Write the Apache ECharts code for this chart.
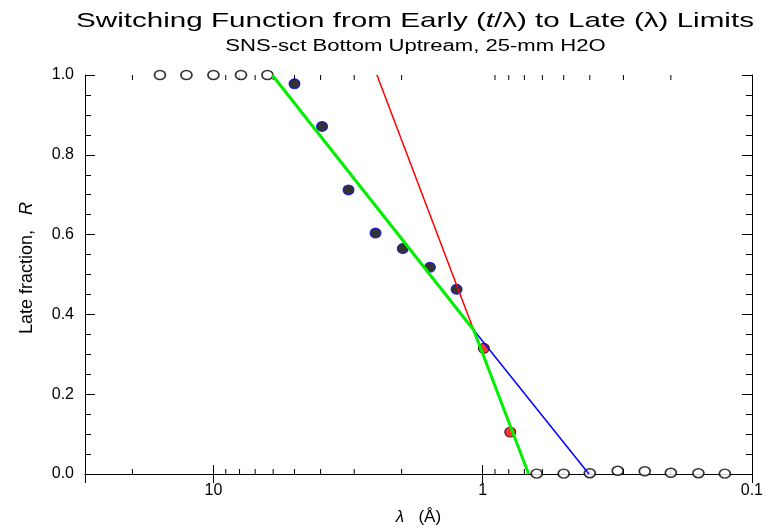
<!DOCTYPE html>
<html>
<head>
<meta charset="utf-8">
<script src="https://cdn.jsdelivr.net/npm/echarts@6/dist/echarts.min.js"></script>
<style>html,body{margin:0;padding:0;background:#fff;}#c{width:766px;height:531px;}</style>
</head>
<body>
<div id="c"></div>
<script>
// ---- data ----
const openTopX = [15.8, 12.6, 10.0, 7.9, 6.3];
const openTopY = [1.0, 1.0, 1.0, 1.0, 1.0];
const navyX = [5.0, 3.95, 3.15, 2.5, 1.98, 1.57, 1.25];
const navyY = [0.978, 0.871, 0.712, 0.604, 0.565, 0.518, 0.463];
const redX = [0.99, 0.79];
const redY = [0.315, 0.105];
const openBotX = [0.63, 0.50, 0.40, 0.315, 0.25, 0.20, 0.158, 0.126];
const openBotY = [0.001, 0.001, 0.002, 0.008, 0.007, 0.003, 0.002, 0.001];
const greenX = [6.05, 1.08, 0.675];
const greenY = [1.0, 0.361, 0.0];
const redLineX = [2.47, 1.08];
const redLineY = [1.0, 0.361];
const blueX = [1.08, 0.403];
const blueY = [0.361, 0.0];
const xTickLabels = [10, 1, 0.1];
const xMinorTicks = [20, 9, 8, 7, 6, 5, 4, 3, 2, 0.9, 0.8, 0.7, 0.6, 0.5, 0.4, 0.3, 0.2];
const yTicks = [0.0, 0.2, 0.4, 0.6, 0.8, 1.0];

const FONT = '"Liberation Sans", Arial, sans-serif';
const zip = (xs, ys) => xs.map((x, i) => [x, ys[i]]);

const chart = echarts.init(document.getElementById('c'), null, {renderer: 'canvas'});

function xFmt(v) {
  for (const t of xTickLabels) {
    if (Math.abs(Math.log10(v) - Math.log10(t)) < 1e-6) return String(t);
  }
  return '';
}

const xBase = {
  type: 'log', logBase: 10, min: 0.1, max: 30, inverse: true,
  axisLine: {show: true, lineStyle: {color: '#000', width: 1}},
  axisTick: {show: true, inside: true, length: 9, lineStyle: {color: '#000'}},
  splitLine: {show: false}
};
const yBase = {
  type: 'value', min: 0, max: 1, interval: 0.2,
  axisLine: {show: true, lineStyle: {color: '#000', width: 1}},
  axisTick: {show: true, inside: true, length: 10, lineStyle: {color: '#000'}},
  minorTick: {show: true, splitNumber: 4, length: 6, lineStyle: {color: '#000'}},
  splitLine: {show: false}, minorSplitLine: {show: false}
};

const option = {
  animation: false,
  backgroundColor: '#fff',
  grid: {left: 85, right: 13, top: 75, bottom: 54, containLabel: false},
  xAxis: [
    Object.assign({}, xBase, {
      position: 'bottom',
      axisLabel: {show: true, formatter: xFmt, margin: 9, color: '#000', fontSize: 16, fontFamily: FONT},
      name: '{i|λ}   (Å)', nameLocation: 'middle', nameGap: 35,
      nameTextStyle: {color: '#000', fontSize: 17, fontFamily: FONT,
        rich: {i: {fontStyle: 'italic', fontSize: 17, fontFamily: FONT, color: '#000'}}}
    }),
    Object.assign({}, xBase, {position: 'top', axisLabel: {show: false}})
  ],
  yAxis: [
    Object.assign({}, yBase, {
      position: 'left',
      axisLabel: {show: true, margin: 11, color: '#000', fontSize: 16, fontFamily: FONT,
        formatter: v => {
          const t = yTicks.find(a => Math.abs(a - v) < 1e-9);
          return t === undefined ? '' : t.toFixed(1);
        }}
    }),
    Object.assign({}, yBase, {position: 'right', axisLabel: {show: false}})
  ],
  graphic: [
    {type: 'text', x: 415, y: 21, scaleX: 1.41, z: 100,
      style: {text: 'Switching Function from Early ({i|t}/λ) to Late (λ) Limits',
        fontSize: 21, fontFamily: FONT, fill: '#000',
        align: 'center', verticalAlign: 'middle', textAlign: 'center', textVerticalAlign: 'middle',
        rich: {i: {fontStyle: 'italic', fontSize: 21, fontFamily: FONT, fill: '#000'}}}},
    {type: 'text', x: 415.5, y: 47, scaleX: 1.38, z: 100,
      style: {text: 'SNS-sct Bottom Uptream, 25-mm H2O',
        fontSize: 16, fontFamily: FONT, fill: '#000',
        align: 'center', verticalAlign: 'middle', textAlign: 'center', textVerticalAlign: 'middle'}},
    {type: 'text', x: 27, y: 268, rotation: Math.PI / 2, z: 100,
      style: {text: 'Late fraction,   {i|R}',
        fontSize: 18, fontFamily: FONT, fill: '#000',
        align: 'center', verticalAlign: 'middle', textAlign: 'center', textVerticalAlign: 'middle',
        rich: {i: {fontStyle: 'italic', fontSize: 18, fontFamily: FONT, fill: '#000'}}}}
  ],
  series: [
    {type: 'custom', xAxisIndex: 0, yAxisIndex: 0, silent: true, z: 1,
      data: xMinorTicks.map(v => [v, 0]),
      encode: {x: 0, y: 1},
      renderItem: function (params, api) {
        const v = api.value(0);
        const pb = api.coord([v, 0]);
        const pt = api.coord([v, 1]);
        const st = {stroke: '#000', lineWidth: 1};
        return {type: 'group', children: [
          {type: 'line', shape: {x1: pb[0], y1: pb[1], x2: pb[0], y2: pb[1] - 5}, style: st},
          {type: 'line', shape: {x1: pt[0], y1: pt[1], x2: pt[0], y2: pt[1] + 5}, style: st}
        ]};
      }},
    {name: 'early', type: 'scatter', data: zip(openTopX, openTopY), symbol: 'circle', symbolSize: [11, 9], z: 3,
      itemStyle: {color: '#fff', borderColor: '#000', borderWidth: 1.6}},
    {name: 'late', type: 'scatter', data: zip(openBotX, openBotY), symbol: 'circle', symbolSize: [11, 9], z: 3,
      itemStyle: {color: '#fff', borderColor: '#000', borderWidth: 1.6}},
    {name: 'mid', type: 'scatter', data: zip(navyX, navyY), symbol: 'circle', symbolSize: [11, 10], z: 3,
      itemStyle: {color: '#000', borderColor: '#0000ff', borderWidth: 1}},
    {name: 'red', type: 'scatter', data: zip(redX, redY), symbol: 'circle', symbolSize: [11, 10], z: 3,
      itemStyle: {color: '#ff0000', borderColor: '#000', borderWidth: 1}},
    {name: 'redfit', type: 'line', data: zip(redLineX, redLineY), showSymbol: false, symbol: 'none', z: 4,
      lineStyle: {color: '#ff0000', width: 1.5}},
    {name: 'bluefit', type: 'line', data: zip(blueX, blueY), showSymbol: false, symbol: 'none', z: 4,
      lineStyle: {color: '#0000ff', width: 1.5}},
    {name: 'greenfit', type: 'line', data: zip(greenX, greenY), showSymbol: false, symbol: 'none', z: 5,
      lineStyle: {color: '#00f000', width: 3}}
  ]
};
chart.setOption(option);
</script>
</body>
</html>
